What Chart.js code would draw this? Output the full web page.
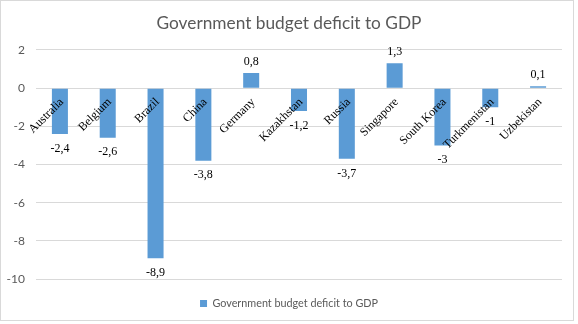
<!DOCTYPE html>
<html>
<head>
<meta charset="utf-8">
<script src="https://cdn.jsdelivr.net/npm/chart.js@4.4.1/dist/chart.umd.min.js"></script>
<style>
  html, body { margin: 0; padding: 0; background: #fff; }
  #wrap { width: 578px; height: 324px; position: relative; }
</style>
</head>
<body>
<div id="wrap"><canvas id="c" width="578" height="324"></canvas></div>
<script>
const chartTitle = 'Government budget deficit to GDP';
const seriesName = 'Government budget deficit to GDP';
const categories = ['Australia', 'Belgium', 'Brazil', 'China', 'Germany', 'Kazakhstan', 'Russia', 'Singapore', 'South Korea', 'Turkmenistan', 'Uzbekistan'];
const values = [-2.4, -2.6, -8.9, -3.8, 0.8, -1.2, -3.7, 1.3, -3, -1, 0.1];
const yMin = -10, yMax = 2, yStep = 2;

const barColor = '#5B9BD5';
const gridColor = '#D9D9D9';
const textGray = '#595959';

const frame = {
  id: 'frame',
  beforeDraw(chart) {
    const ctx = chart.ctx;
    ctx.save();
    ctx.fillStyle = '#ffffff';
    ctx.fillRect(0, 0, chart.width, chart.height);
    ctx.strokeStyle = gridColor;
    ctx.lineWidth = 1;
    ctx.strokeRect(0.5, 0.5, 573, 320);
    ctx.restore();
  }
};

// Category labels drawn along the zero line, rotated -45°, on top of the bars
const categoryLabels = {
  id: 'categoryLabels',
  afterDatasetsDraw(chart) {
    const ctx = chart.ctx;
    const xs = chart.scales.x, ys = chart.scales.y;
    const y0 = ys.getPixelForValue(0);
    ctx.save();
    ctx.font = '12px "Liberation Serif", "Times New Roman", serif';
    ctx.fillStyle = '#000000';
    ctx.textAlign = 'right';
    ctx.textBaseline = 'middle';
    chart.data.labels.forEach((lab, i) => {
      const x = xs.getPixelForValue(i);
      ctx.save();
      ctx.translate(x + 2, y0 + 12);
      ctx.rotate(-Math.PI / 4);
      ctx.fillText(lab, 0, 0);
      ctx.restore();
    });
    ctx.restore();
  }
};

const valueLabels = {
  id: 'valueLabels',
  afterDatasetsDraw(chart) {
    const ctx = chart.ctx;
    const meta = chart.getDatasetMeta(0);
    ctx.save();
    ctx.font = '12px "Liberation Serif", "Times New Roman", serif';
    ctx.fillStyle = '#000000';
    ctx.textAlign = 'center';
    ctx.textBaseline = 'middle';
    meta.data.forEach((bar, i) => {
      const v = chart.data.datasets[0].data[i];
      const txt = String(v).replace('.', ',');
      const y = v >= 0 ? bar.y - 11.5 : bar.y + 14.5;
      ctx.fillText(txt, bar.x, y);
    });
    ctx.restore();
  }
};

new Chart(document.getElementById('c'), {
  type: 'bar',
  data: {
    labels: categories,
    datasets: [{
      label: seriesName,
      data: values,
      backgroundColor: barColor,
      borderWidth: 0,
      barPercentage: 0.335,
      categoryPercentage: 1.0
    }]
  },
  options: {
    responsive: false,
    animation: false,
    layout: { padding: { top: 0, right: 0, bottom: 5, left: 0 } },
    plugins: {
      title: {
        display: true,
        text: chartTitle,
        color: textGray,
        font: { family: 'Lato', size: 17.3, weight: 'normal' },
        padding: { top: 12.6, bottom: 16.6 }
      },
      legend: {
        display: true,
        position: 'bottom',
        labels: {
          boxWidth: 7,
          boxHeight: 7,
          padding: 19,
          color: textGray,
          font: { family: 'Lato', size: 10.8 }
        }
      },
      tooltip: { enabled: false }
    },
    scales: {
      x: {
        type: 'category',
        display: false,
        ticks: { autoSkip: false }
      },
      y: {
        min: yMin,
        max: yMax,
        grid: { color: gridColor, lineWidth: 1, drawTicks: false },
        border: { display: false },
        ticks: {
          stepSize: yStep,
          padding: 11,
          color: textGray,
          font: { family: 'Lato', size: 12 },
          callback: (v) => String(v)
        },
        afterFit(scale) { scale.width = 36; }
      },
      yRight: {
        type: 'linear',
        position: 'right',
        min: yMin,
        max: yMax,
        grid: { display: false, drawOnChartArea: false },
        border: { display: false },
        ticks: { display: false },
        afterFit(scale) { scale.width = 16; }
      }
    }
  },
  plugins: [frame, categoryLabels, valueLabels]
});
</script>
</body>
</html>
